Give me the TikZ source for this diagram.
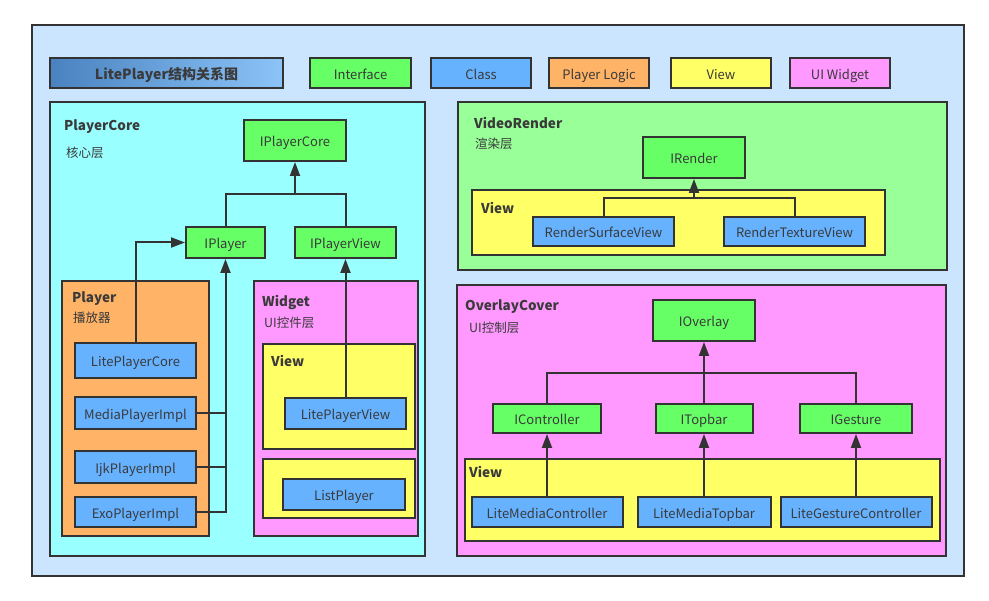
\documentclass[tikz,border=0pt]{standalone}
\usepackage{fontspec}
\setmainfont{Noto Sans CJK SC}
\usetikzlibrary{arrows.meta}
\definecolor{bgc}{HTML}{CCE5FF}
\definecolor{linec}{HTML}{333333}
\definecolor{textc}{HTML}{3A3A3A}
\definecolor{ifc}{HTML}{66FF66}
\definecolor{clc}{HTML}{66B2FF}
\definecolor{plc}{HTML}{FFB366}
\definecolor{vwc}{HTML}{FFFF66}
\definecolor{uic}{HTML}{FF99FF}
\definecolor{pcc}{HTML}{99FFFF}
\definecolor{vrc}{HTML}{99FF99}
\definecolor{tl}{HTML}{4A82C0}
\definecolor{tr}{HTML}{8CC4F8}
\tikzset{
  bx/.style={draw=linec, line width=2pt, inner sep=0pt, text=textc, font=\fontsize{13}{15}\selectfont, text height=13pt, text depth=0pt},
  iface/.style={bx, fill=ifc},
  cls/.style={bx, fill=clc},
  cont/.style={draw=linec, line width=2pt, inner sep=0pt},
  ttl/.style={anchor=west, inner sep=0pt, text=textc, font=\fontsize{13.5}{15}\selectfont\bfseries},
  sub/.style={anchor=west, inner sep=0pt, text=textc, font=\fontsize{12.5}{14}\selectfont},
  ln/.style={draw=linec, line width=2pt},
  arr/.style={ln, -{Triangle[length=14pt,width=10pt]}}
}
\begin{document}
\begin{tikzpicture}[x=1pt,y=-1pt]
\useasboundingbox (0,0) rectangle (989,601);
\fill[white] (0,0) rectangle (989,601);
\node[cont, fill=bgc, minimum width=932pt, minimum height=551pt] (frame) at (498,300.5) {};
% legend
\node[cont, left color=tl, right color=tr, minimum width=233pt, minimum height=30pt, text=textc, font=\fontsize{14}{16}\selectfont\bfseries, text height=13pt, text depth=0pt] (title) at (166.5,73) {LitePlayer结构关系图};
\node[iface, minimum width=101pt, minimum height=30pt] (lgi) at (360.5,73) {Interface};
\node[cls, minimum width=100pt, minimum height=30pt] (lgc) at (481,73) {Class};
\node[bx, fill=plc, minimum width=100pt, minimum height=30pt] (lgp) at (599,73) {Player Logic};
\node[bx, fill=vwc, minimum width=100pt, minimum height=30pt] (lgv) at (721,73) {View};
\node[bx, fill=uic, minimum width=100pt, minimum height=30pt] (lgu) at (840,73) {UI Widget};
% PlayerCore
\node[cont, fill=pcc, minimum width=375pt, minimum height=454pt] (pc) at (237.5,329) {};
\node[ttl] (pct) at (64,127) {PlayerCore};
\node[sub] (pcs) at (66,153) {核心层};
\node[cont, fill=plc, minimum width=147pt, minimum height=255pt] (pl) at (135.5,408.5) {};
\node[ttl] (plt) at (72,299) {Player};
\node[sub] (pls) at (73,318) {播放器};
\node[cont, fill=uic, minimum width=164pt, minimum height=255pt] (wg) at (336,408.5) {};
\node[ttl] (wgt) at (262,303) {Widget};
\node[sub] (wgs) at (264,323) {UI控件层};
\node[cont, fill=vwc, minimum width=152pt, minimum height=105pt] (wv1) at (339,396.5) {};
\node[ttl] (wv1t) at (271,361) {View};
\node[cont, fill=vwc, minimum width=152pt, minimum height=59pt] (wv2) at (339,488.5) {};
\node[iface, minimum width=102pt, minimum height=41pt] (ipc) at (295,140.5) {IPlayerCore};
\node[iface, minimum width=79pt, minimum height=31pt] (ipl) at (225.5,242.5) {IPlayer};
\node[iface, minimum width=101pt, minimum height=31pt] (ipv) at (345.5,242.5) {IPlayerView};
\node[cls, minimum width=121pt, minimum height=35pt] (lpc) at (135.5,360.5) {LitePlayerCore};
\node[cls, minimum width=121pt, minimum height=32pt] (mpi) at (135.5,413) {MediaPlayerImpl};
\node[cls, minimum width=121pt, minimum height=32pt] (ijk) at (135.5,467) {IjkPlayerImpl};
\node[cls, minimum width=121pt, minimum height=30pt] (exo) at (135.5,512) {ExoPlayerImpl};
\node[cls, minimum width=121pt, minimum height=31pt] (lpv) at (345.5,413.5) {LitePlayerView};
\node[cls, minimum width=122pt, minimum height=31pt] (lsp) at (344,494.5) {ListPlayer};
\coordinate (jc) at (295,194);
\draw[ln] (ipl.north) |- (jc);
\draw[ln] (ipv.north) |- (jc);
\draw[arr] (jc) -- (ipc.south);
\draw[arr] (lpc.north) |- (ipl.west);
\draw[ln] (mpi.east) -- (mpi.east -| ipl.south);
\draw[ln] (ijk.east) -- (ijk.east -| ipl.south);
\draw[arr] (exo.east) -| (ipl.south);
\draw[arr] (lpv.north) -- (ipv.south);
% VideoRender
\node[cont, fill=vrc, minimum width=489pt, minimum height=168pt] (vr) at (702.5,186) {};
\node[ttl] (vrt) at (474,123) {VideoRender};
\node[sub] (vrs) at (475,144) {渲染层};
\node[cont, fill=vwc, minimum width=413pt, minimum height=65pt] (vrv) at (678.5,222.5) {};
\node[ttl] (vrvt) at (481,208) {View};
\node[iface, minimum width=102pt, minimum height=41pt] (ird) at (694,157.5) {IRender};
\node[cls, minimum width=141pt, minimum height=29pt] (rsv) at (603.5,231.5) {RenderSurfaceView};
\node[cls, minimum width=141pt, minimum height=29pt] (rtv) at (794.5,231.5) {RenderTextureView};
\coordinate (jr) at (694,198);
\draw[ln] (rsv.north) |- (jr);
\draw[ln] (rtv.north) |- (jr);
\draw[arr] (jr) -- (ird.south);
% OverlayCover
\node[cont, fill=uic, minimum width=489pt, minimum height=271pt] (oc) at (701.5,420.5) {};
\node[ttl] (oct) at (465,307) {OverlayCover};
\node[sub] (ocs) at (469,328) {UI控制层};
\node[cont, fill=vwc, minimum width=475pt, minimum height=82pt] (ocv) at (702.5,500) {};
\node[ttl] (ocvt) at (469,472) {View};
\node[iface, minimum width=102pt, minimum height=41pt] (iov) at (704,320.5) {IOverlay};
\node[iface, minimum width=108pt, minimum height=29pt] (ict) at (547,418.5) {IController};
\node[iface, minimum width=97pt, minimum height=29pt] (itb) at (704,418.5) {ITopbar};
\node[iface, minimum width=112pt, minimum height=29pt] (igs) at (856,418.5) {IGesture};
\node[cls, minimum width=151pt, minimum height=30pt] (lmc) at (547,512) {LiteMediaController};
\node[cls, minimum width=133pt, minimum height=30pt] (lmt) at (704,512) {LiteMediaTopbar};
\node[cls, minimum width=151pt, minimum height=30pt] (lgcn) at (856,512) {LiteGestureController};
\coordinate (jo) at (704,373);
\draw[ln] (ict.north) |- (jo);
\draw[ln] (igs.north) |- (jo);
\draw[ln] (itb.north) -- (jo);
\draw[arr] (jo) -- (iov.south);
\draw[arr] (lmc.north) -- (ict.south);
\draw[arr] (lmt.north) -- (itb.south);
\draw[arr] (lgcn.north) -- (igs.south);
\end{tikzpicture}
\end{document}
